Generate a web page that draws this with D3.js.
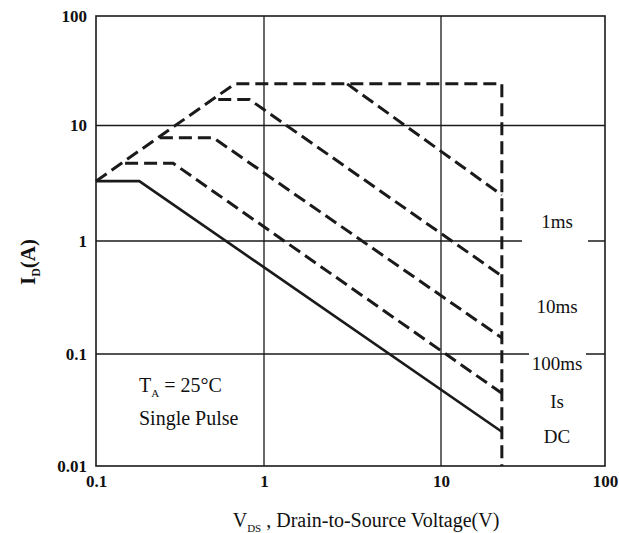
<!DOCTYPE html>
<html>
<head>
<meta charset="utf-8">
<script src="https://cdn.jsdelivr.net/npm/d3@7/dist/d3.min.js"></script>
<style>
  html, body { margin: 0; padding: 0; background: #fff; }
  svg { display: block; }
  text { font-family: "Liberation Serif", "Times New Roman", serif; fill: #111; }
</style>
</head>
<body>
<svg id="chart" width="619" height="533"></svg>
<script>
// ---- data ----
const xTicks = [0.1, 1, 10, 100];
const yTicks = [0.01, 0.1, 1, 10, 100];
const xTickLabels = ["0.1", "1", "10", "100"];
const yTickLabels = ["0.01", "0.1", "1", "10", "100"];

// Safe operating area boundary (RDS(on) limit, ID max, BVDSS)
const vLimit = [0.1, 0.67, 23.5, 23.5];
const iLimit = [3.3, 24, 24, 0.01];
// pulse-width curves
const v1ms = [2.95, 23.5];
const i1ms = [24, 2.5];
const v10ms = [0.534, 0.818, 23.5];
const i10ms = [17.3, 17.3, 0.49];
const v100ms = [0.24, 0.499, 23.5];
const i100ms = [7.84, 7.84, 0.139];
const v1s = [0.149, 0.288, 23.5];
const i1s = [4.71, 4.71, 0.0446];
const vDC = [0.1, 0.181, 23.5];
const iDC = [3.3, 3.3, 0.0202];

const seriesLabels = ["1ms", "10ms", "100ms", "Is", "DC"];

// ---- layout ----
const svg = d3.select("#chart");
const x = d3.scaleLog().domain([0.1, 1, 10, 100]).range([96, 264, 441, 605]);
const y = d3.scaleLog().domain([0.01, 0.1, 1, 10, 100]).range([466, 354, 241, 125.5, 16]);

const ink = "#1a1a1a";

// grid lines
svg.append("g").selectAll("line.vg").data(xTicks.slice(1, -1)).join("line")
  .attr("x1", d => x(d)).attr("x2", d => x(d))
  .attr("y1", y(100)).attr("y2", y(0.01))
  .attr("stroke", ink).attr("stroke-width", 1.3);
svg.append("g").selectAll("line.hg").data(yTicks.slice(1, -1)).join("line")
  .attr("x1", x(0.1)).attr("x2", x(100))
  .attr("y1", d => y(d)).attr("y2", d => y(d))
  .attr("stroke", ink).attr("stroke-width", 1.3);

// white gaps behind right-side labels
svg.append("rect").attr("x", 522).attr("y", y(1) - 3).attr("width", 66).attr("height", 6).attr("fill", "#fff");
svg.append("rect").attr("x", 529).attr("y", y(0.1) - 3).attr("width", 57).attr("height", 6).attr("fill", "#fff");

// frame
svg.append("rect")
  .attr("x", x(0.1)).attr("y", y(100))
  .attr("width", x(100) - x(0.1)).attr("height", y(0.01) - y(100))
  .attr("fill", "none").attr("stroke", ink).attr("stroke-width", 1.6);

// axes (labels only)
const yAxis = d3.axisLeft(y).tickValues(yTicks)
  .tickFormat((d, i) => yTickLabels[i]).tickSize(0).tickPadding(9);
const gy = svg.append("g").attr("transform", `translate(${x(0.1)},0)`).call(yAxis);
gy.select(".domain").remove();
gy.selectAll("text").attr("font-family", "Liberation Serif, serif")
  .attr("font-size", 17).attr("font-weight", "bold").attr("fill", "#111");

const xAxis = d3.axisBottom(x).tickValues(xTicks)
  .tickFormat((d, i) => xTickLabels[i]).tickSize(0).tickPadding(9);
const gx = svg.append("g").attr("transform", `translate(0,${y(0.01)})`).call(xAxis);
gx.select(".domain").remove();
gx.selectAll("text").attr("font-family", "Liberation Serif, serif")
  .attr("font-size", 17).attr("font-weight", "bold").attr("fill", "#111");

// curves
const line = d3.line().x(d => x(d[0])).y(d => y(d[1]));
const zip = (a, b) => a.map((v, i) => [v, b[i]]);
const dashed = [
  [vLimit, iLimit], [v1ms, i1ms], [v10ms, i10ms], [v100ms, i100ms], [v1s, i1s]
];
svg.append("g").selectAll("path").data(dashed).join("path")
  .attr("d", d => line(zip(d[0], d[1])))
  .attr("fill", "none").attr("stroke", ink).attr("stroke-width", 3)
  .attr("stroke-dasharray", "13,6").attr("stroke-linejoin", "miter");
svg.append("path").attr("d", line(zip(vDC, iDC)))
  .attr("fill", "none").attr("stroke", ink).attr("stroke-width", 2.6);

// series labels
const labelY = [221.7, 306.7, 363.3, 401.7, 436.7];
svg.append("g").selectAll("text").data(seriesLabels).join("text")
  .attr("x", 557).attr("y", (d, i) => labelY[i]).attr("dy", "0.35em")
  .attr("text-anchor", "middle").attr("font-size", 19).text(d => d);

// condition annotation
const t1 = svg.append("text").attr("x", 139).attr("y", 392).attr("font-size", 20);
t1.append("tspan").text("T");
t1.append("tspan").attr("font-size", 11).attr("dy", 5).text("A");
t1.append("tspan").attr("dy", -5).text(" = 25°C");
svg.append("text").attr("x", 139).attr("y", 425).attr("font-size", 20).text("Single Pulse");

// axis titles
const xt = svg.append("text").attr("x", 366).attr("y", 527)
  .attr("text-anchor", "middle").attr("font-size", 20);
xt.append("tspan").text("V");
xt.append("tspan").attr("font-size", 11).attr("dy", 5).text("DS");
xt.append("tspan").attr("dy", -5).text(" , Drain-to-Source Voltage(V)");

const yt = svg.append("text").attr("transform", "translate(35,262) rotate(-90)")
  .attr("text-anchor", "middle").attr("font-size", 21).attr("font-weight", "bold");
yt.append("tspan").text("I");
yt.append("tspan").attr("font-size", 12).attr("dy", 5).text("D");
yt.append("tspan").attr("dy", -5).text("(A)");
</script>
</body>
</html>
